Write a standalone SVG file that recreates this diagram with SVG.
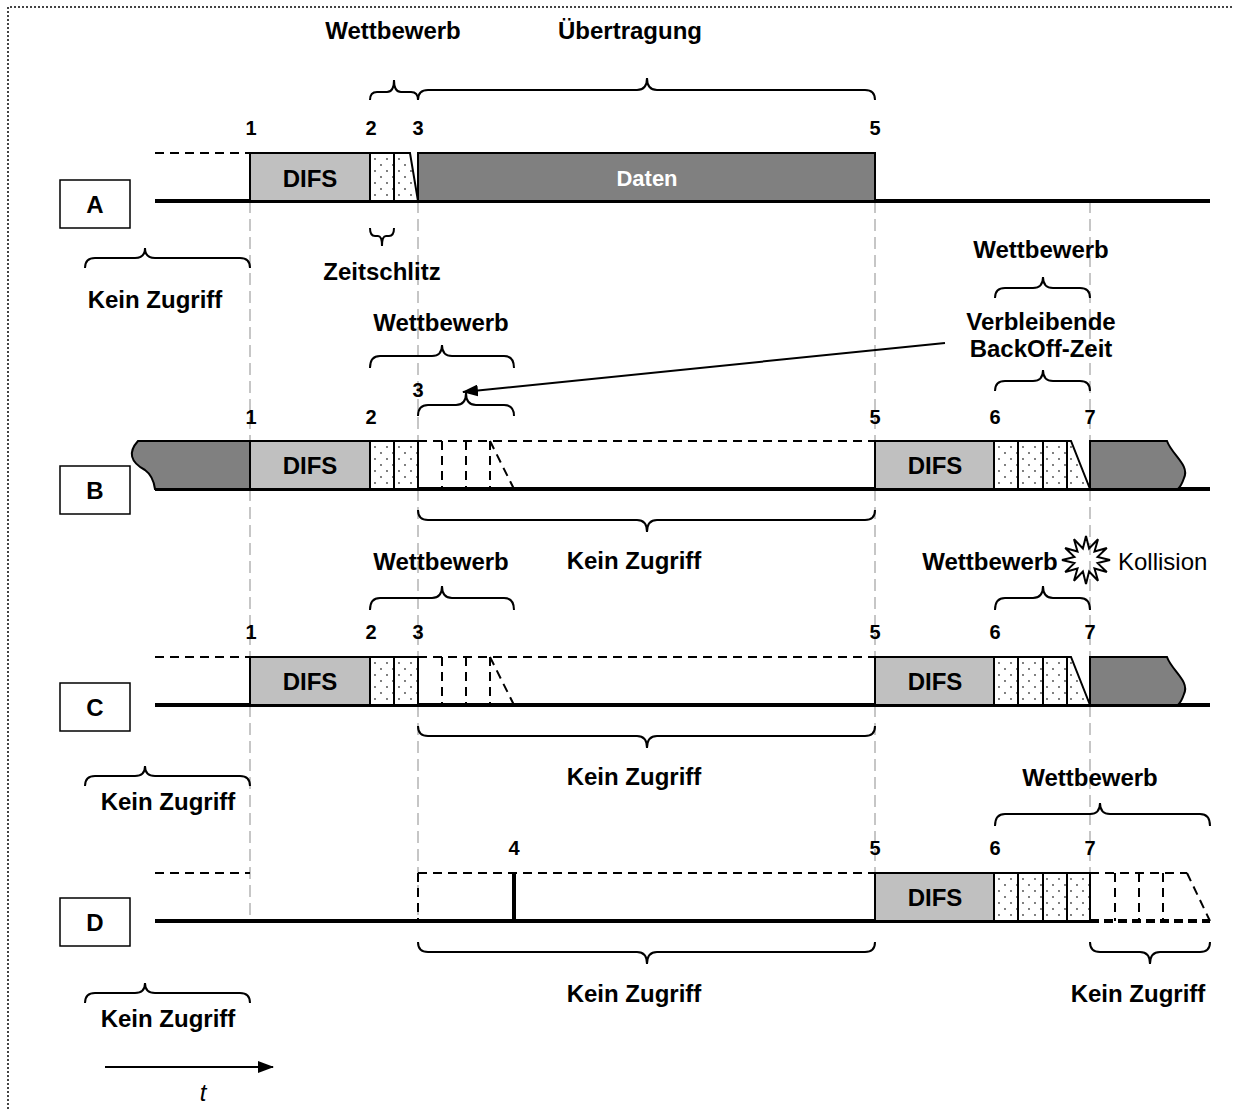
<svg xmlns="http://www.w3.org/2000/svg" width="1233" height="1109" viewBox="0 0 1233 1109">
  <defs>
    <pattern id="dots" width="12" height="12" patternUnits="userSpaceOnUse">
      <rect width="12" height="12" fill="#fff"/>
      <circle cx="3" cy="3" r="0.9" fill="#444"/>
      <circle cx="9" cy="9" r="0.9" fill="#444"/>
    </pattern>
    <marker id="arrow" viewBox="0 0 16 12" refX="15" refY="6" markerWidth="16" markerHeight="12" markerUnits="userSpaceOnUse" orient="auto">
      <path d="M0,0 L16,6 L0,12 Z" fill="#000"/>
    </marker>
    <style>
      .lbl { font-family: "Liberation Sans", Arial, sans-serif; font-weight: bold; font-size: 24px; fill: #000; text-anchor: middle; }
      .num { font-family: "Liberation Sans", Arial, sans-serif; font-weight: bold; font-size: 20px; fill: #000; text-anchor: middle; }
      .plain { font-family: "Liberation Sans", Arial, sans-serif; font-size: 24px; fill: #000; }
      .ital { font-family: "Liberation Sans", Arial, sans-serif; font-style: italic; font-size: 24px; fill: #000; text-anchor: middle; }
      .difs { fill: #c0c0c0; stroke: #000; stroke-width: 2; }
      .data { fill: #808080; stroke: #000; stroke-width: 2; }
      .slot { fill: url(#dots); stroke: #000; stroke-width: 2; }
      .base { stroke: #000; stroke-width: 4; fill: none; }
      .dash { stroke: #000; stroke-width: 2; stroke-dasharray: 9 6; fill: none; }
      .guide { stroke: #b4b4b4; stroke-width: 1.5; stroke-dasharray: 12 6; fill: none; }
      .brace { stroke: #000; stroke-width: 2; fill: none; }
      .station { fill: #fff; stroke: #000; stroke-width: 1.5; }
    </style>
  </defs>

  <!-- dotted frame -->
  <path d="M8,1109 V7 H1233" fill="none" stroke="#444" stroke-width="2" stroke-dasharray="2 2"/>

  <!-- vertical timing guides -->
  <g id="guides">
    <line class="guide" x1="250" y1="201" x2="250" y2="921"/>
    <line class="guide" x1="418" y1="201" x2="418" y2="921"/>
    <line class="guide" x1="875" y1="201" x2="875" y2="921"/>
    <line class="guide" x1="1090" y1="201" x2="1090" y2="921"/>
  </g>

  <!-- station A -->
  <g id="station-A">
    <line class="dash" x1="155" y1="153" x2="250" y2="153"/>
    <line class="base" x1="155" y1="201" x2="1210" y2="201"/>
    <rect class="difs" x="250" y="153" width="120" height="48"/>
    <text class="lbl" x="310" y="187">DIFS</text>
    <rect class="slot" x="370" y="153" width="24" height="48"/>
    <polygon class="slot" points="394,153 410,153 418,201 394,201"/>
    <rect class="data" x="418" y="153" width="457" height="48"/>
    <text class="lbl" x="647" y="186" style="fill:#fff;font-size:22px">Daten</text>
    <rect class="station" x="60" y="180" width="70" height="48"/>
    <text class="lbl" x="95" y="213">A</text>
    <text class="num" x="251" y="135">1</text>
    <text class="num" x="371" y="135">2</text>
    <text class="num" x="418" y="135">3</text>
    <text class="num" x="875" y="135">5</text>
  </g>

  <!-- station B -->
  <g id="station-B">
    <line class="base" x1="155" y1="489" x2="1210" y2="489"/>
    <path class="data" d="M250,441 L138,441 C128,452 130,462 145,470 C152,475 154,482 155,489 L250,489 Z"/>
    <rect class="difs" x="250" y="441" width="120" height="48"/>
    <text class="lbl" x="310" y="474">DIFS</text>
    <rect class="slot" x="370" y="441" width="24" height="48"/>
    <rect class="slot" x="394" y="441" width="24" height="48"/>
    <line class="dash" x1="418" y1="441" x2="875" y2="441"/>
    <line class="dash" x1="442" y1="441" x2="442" y2="489"/>
    <line class="dash" x1="466" y1="441" x2="466" y2="489"/>
    <line class="dash" x1="490" y1="441" x2="490" y2="489"/>
    <line class="dash" x1="490" y1="441" x2="514" y2="489"/>
    <rect class="difs" x="875" y="441" width="119" height="48"/>
    <text class="lbl" x="935" y="474">DIFS</text>
    <rect class="slot" x="994" y="441" width="24" height="48"/>
    <rect class="slot" x="1018" y="441" width="25" height="48"/>
    <rect class="slot" x="1043" y="441" width="24" height="48"/>
    <polygon class="slot" points="1067,441 1071,441 1090,489 1067,489"/>
    <path class="data" d="M1090,441 L1167,441 C1172,455 1190,465 1184,478 C1182,484 1180,487 1178,489 L1090,489 Z"/>
    <rect class="station" x="60" y="466" width="70" height="48"/>
    <text class="lbl" x="95" y="499">B</text>
    <text class="num" x="251" y="424">1</text>
    <text class="num" x="371" y="424">2</text>
    <text class="num" x="418" y="397">3</text>
    <text class="num" x="875" y="424">5</text>
    <text class="num" x="995" y="424">6</text>
    <text class="num" x="1090" y="424">7</text>
  </g>

  <!-- station C -->
  <g id="station-C">
    <line class="dash" x1="155" y1="657" x2="250" y2="657"/>
    <line class="base" x1="155" y1="705" x2="1210" y2="705"/>
    <rect class="difs" x="250" y="657" width="120" height="48"/>
    <text class="lbl" x="310" y="690">DIFS</text>
    <rect class="slot" x="370" y="657" width="24" height="48"/>
    <rect class="slot" x="394" y="657" width="24" height="48"/>
    <line class="dash" x1="418" y1="657" x2="875" y2="657"/>
    <line class="dash" x1="442" y1="657" x2="442" y2="705"/>
    <line class="dash" x1="466" y1="657" x2="466" y2="705"/>
    <line class="dash" x1="490" y1="657" x2="490" y2="705"/>
    <line class="dash" x1="490" y1="657" x2="514" y2="705"/>
    <rect class="difs" x="875" y="657" width="119" height="48"/>
    <text class="lbl" x="935" y="690">DIFS</text>
    <rect class="slot" x="994" y="657" width="24" height="48"/>
    <rect class="slot" x="1018" y="657" width="25" height="48"/>
    <rect class="slot" x="1043" y="657" width="24" height="48"/>
    <polygon class="slot" points="1067,657 1071,657 1090,705 1067,705"/>
    <path class="data" d="M1090,657 L1167,657 C1172,671 1190,681 1184,694 C1182,700 1180,703 1178,705 L1090,705 Z"/>
    <rect class="station" x="60" y="683" width="70" height="48"/>
    <text class="lbl" x="95" y="716">C</text>
    <text class="num" x="251" y="639">1</text>
    <text class="num" x="371" y="639">2</text>
    <text class="num" x="418" y="639">3</text>
    <text class="num" x="875" y="639">5</text>
    <text class="num" x="995" y="639">6</text>
    <text class="num" x="1090" y="639">7</text>
  </g>

  <!-- station D -->
  <g id="station-D">
    <line class="dash" x1="155" y1="873" x2="250" y2="873"/>
    <line class="base" x1="155" y1="921" x2="1090" y2="921"/>
    <line class="dash" x1="418" y1="873" x2="875" y2="873"/>
    <line class="dash" x1="418" y1="873" x2="418" y2="921"/>
    <line x1="514" y1="873" x2="514" y2="921" stroke="#000" stroke-width="4"/>
    <rect class="difs" x="875" y="873" width="119" height="48"/>
    <text class="lbl" x="935" y="906">DIFS</text>
    <rect class="slot" x="994" y="873" width="24" height="48"/>
    <rect class="slot" x="1018" y="873" width="25" height="48"/>
    <rect class="slot" x="1043" y="873" width="24" height="48"/>
    <rect class="slot" x="1067" y="873" width="23" height="48"/>
    <line class="dash" x1="1090" y1="873" x2="1187" y2="873"/>
    <line class="dash" x1="1115" y1="873" x2="1115" y2="921"/>
    <line class="dash" x1="1139" y1="873" x2="1139" y2="921"/>
    <line class="dash" x1="1163" y1="873" x2="1163" y2="921"/>
    <line class="dash" x1="1187" y1="873" x2="1210" y2="921"/>
    <line x1="1090" y1="921" x2="1210" y2="921" stroke="#000" stroke-width="4" stroke-dasharray="9 5"/>
    <rect class="station" x="60" y="898" width="70" height="48"/>
    <text class="lbl" x="95" y="931">D</text>
    <text class="num" x="514" y="855">4</text>
    <text class="num" x="875" y="855">5</text>
    <text class="num" x="995" y="855">6</text>
    <text class="num" x="1090" y="855">7</text>
  </g>

  <!-- braces and interval labels -->
  <g id="intervals">
    <!-- top of A -->
    <path class="brace" d="M370,100 Q370,92 377,92 H387 Q394,92 394,80 Q394,92 401,92 H411 Q418,92 418,100"/>
    <text class="lbl" x="393" y="39">Wettbewerb</text>
    <path class="brace" d="M418,100 Q418,90 428,90 H637 Q647,90 647,78 Q647,90 657,90 H865 Q875,90 875,100"/>
    <text class="lbl" x="630" y="39">Übertragung</text>
    <!-- slot -->
    <path class="brace" d="M370,228 Q370,236 375,236 H378 Q382,236 382,246 Q382,236 386,236 H389 Q394,236 394,228"/>
    <text class="lbl" x="382" y="280">Zeitschlitz</text>
    <path class="brace" d="M85,268 Q85,258 95,258 H135 Q145,258 145,248 Q145,258 155,258 H240 Q250,258 250,268"/>
    <text class="lbl" x="155" y="308">Kein Zugriff</text>
    <!-- right of A -->
    <text class="lbl" x="1041" y="258">Wettbewerb</text>
    <path class="brace" d="M995,298 Q995,288 1005,288 H1033 Q1043,288 1043,277 Q1043,288 1053,288 H1080 Q1090,288 1090,298"/>
    <text class="lbl" x="1041" y="330">Verbleibende</text>
    <text class="lbl" x="1041" y="357">BackOff-Zeit</text>
    <path class="brace" d="M995,391 Q995,381 1005,381 H1033 Q1043,381 1043,370 Q1043,381 1053,381 H1080 Q1090,381 1090,391"/>
    <!-- B -->
    <text class="lbl" x="441" y="331">Wettbewerb</text>
    <path class="brace" d="M370,368 Q370,356 380,356 H432 Q442,356 442,345 Q442,356 452,356 H504 Q514,356 514,368"/>
    <path class="brace" d="M418,416 Q418,405 428,405 H456 Q466,405 466,393 Q466,405 476,405 H504 Q514,405 514,416"/>
    <path class="brace" d="M418,510 Q418,520 428,520 H637 Q647,520 647,532 Q647,520 657,520 H865 Q875,520 875,510"/>
    <text class="lbl" x="634" y="569">Kein Zugriff</text>
    <!-- C -->
    <text class="lbl" x="441" y="570">Wettbewerb</text>
    <path class="brace" d="M370,610 Q370,598 380,598 H432 Q442,598 442,586 Q442,598 452,598 H504 Q514,598 514,610"/>
    <text class="lbl" x="990" y="570">Wettbewerb</text>
    <path class="brace" d="M995,610 Q995,598 1005,598 H1033 Q1043,598 1043,586 Q1043,598 1053,598 H1080 Q1090,598 1090,610"/>
    <path class="brace" d="M418,726 Q418,736 428,736 H637 Q647,736 647,748 Q647,736 657,736 H865 Q875,736 875,726"/>
    <text class="lbl" x="634" y="785">Kein Zugriff</text>
    <path class="brace" d="M85,786 Q85,776 95,776 H135 Q145,776 145,766 Q145,776 155,776 H240 Q250,776 250,786"/>
    <text class="lbl" x="168" y="810">Kein Zugriff</text>
    <!-- D -->
    <text class="lbl" x="1090" y="786">Wettbewerb</text>
    <path class="brace" d="M995,826 Q995,814 1005,814 H1090 Q1100,814 1100,803 Q1100,814 1110,814 H1200 Q1210,814 1210,826"/>
    <path class="brace" d="M418,942 Q418,952 428,952 H637 Q647,952 647,964 Q647,952 657,952 H865 Q875,952 875,942"/>
    <text class="lbl" x="634" y="1002">Kein Zugriff</text>
    <path class="brace" d="M1090,942 Q1090,952 1100,952 H1140 Q1150,952 1150,964 Q1150,952 1160,952 H1200 Q1210,952 1210,942"/>
    <text class="lbl" x="1138" y="1002">Kein Zugriff</text>
    <path class="brace" d="M85,1003 Q85,993 95,993 H135 Q145,993 145,983 Q145,993 155,993 H240 Q250,993 250,1003"/>
    <text class="lbl" x="168" y="1027">Kein Zugriff</text>
  </g>

  <!-- collision marker -->
  <g id="collision">
    <polygon points="1086,536 1089.1,548.4 1098,539.2 1094.5,551.5 1106.8,548 1097.6,556.9 1110,560 1097.6,563.1 1106.8,572 1094.5,568.5 1098,580.8 1089.1,571.6 1086,584 1082.9,571.6 1074,580.8 1077.5,568.5 1065.2,572 1074.4,563.1 1062,560 1074.4,556.9 1065.2,548 1077.5,551.5 1074,539.2 1082.9,548.4" fill="none" stroke="#000" stroke-width="2" stroke-linejoin="miter"/>
    <text class="plain" x="1118" y="570">Kollision</text>
  </g>

  <!-- connectors -->
  <g id="connectors">
    <line x1="945" y1="343" x2="463" y2="392" stroke="#000" stroke-width="2" marker-end="url(#arrow)"/>
    <line x1="105" y1="1067" x2="273" y2="1067" stroke="#000" stroke-width="2" marker-end="url(#arrow)"/>
    <text class="ital" x="203" y="1101">t</text>
  </g>
</svg>
